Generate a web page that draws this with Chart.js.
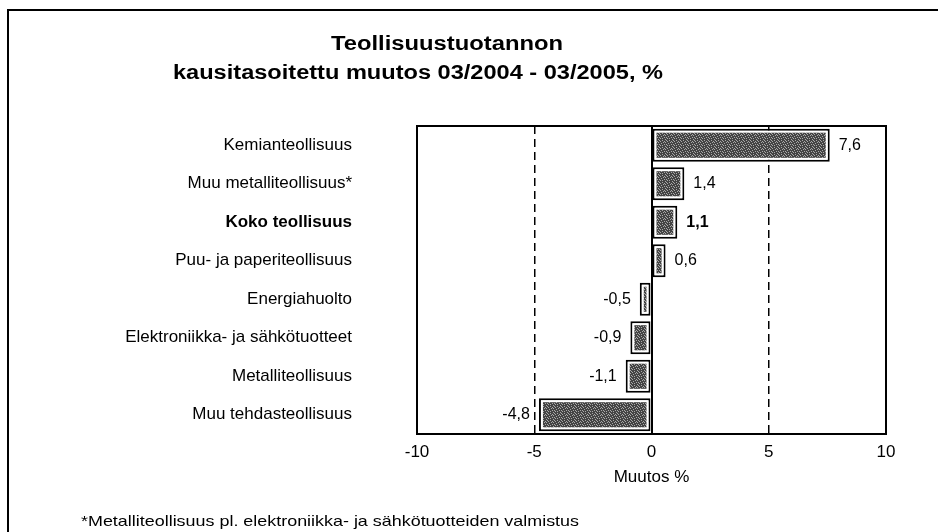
<!DOCTYPE html>
<html><head><meta charset="utf-8">
<script src="https://cdn.jsdelivr.net/npm/chart.js@4.4.1/dist/chart.umd.min.js"></script>
<style>html,body{margin:0;padding:0;background:#fff}#wrap{width:938px;height:532px}</style>
</head><body><div id="wrap"><canvas id="c" width="938" height="532"></canvas></div>
<script>
// ---- data ----
const categories = [
  'Kemianteollisuus',
  'Muu metalliteollisuus*',
  'Koko teollisuus',
  'Puu- ja paperiteollisuus',
  'Energiahuolto',
  'Elektroniikka- ja sähkötuotteet',
  'Metalliteollisuus',
  'Muu tehdasteollisuus'
];
const values = [7.6, 1.4, 1.1, 0.6, -0.5, -0.9, -1.1, -4.8];
const xTicks = [-10, -5, 0, 5, 10];
const titleLines = ['Teollisuustuotannon', 'kausitasoitettu muutos 03/2004 - 03/2005, %'];
const xTitle = 'Muutos %';
const footnote = '*Metalliteollisuus pl. elektroniikka- ja sähkötuotteiden valmistus';
const boldCategory = 'Koko teollisuus';

// ---- styling helpers ----
const FONT = '"Liberation Sans", Arial, Helvetica, sans-serif';
Chart.defaults.font.family = FONT;
Chart.defaults.color = '#000';

function fmt(v) { return v.toFixed(1).replace('.', ','); }

function makePattern(ctx) {
  const map = [
    '0100100',
    '0010001',
    '1000010',
    '0001000',
    '0100001',
    '0010100',
    '1000000'
  ];
  const n = map.length;
  const c = document.createElement('canvas');
  c.width = n; c.height = n;
  const g = c.getContext('2d');
  g.fillStyle = '#444444';
  g.fillRect(0, 0, n, n);
  g.fillStyle = '#a8a8a8';
  for (let r = 0; r < n; r++) for (let k = 0; k < n; k++) if (map[r][k] === '1') g.fillRect(k, r, 1, 1);
  return ctx.createPattern(c, 'repeat');
}

const canvas = document.getElementById('c');
const ctx2d = canvas.getContext('2d');
const texture = makePattern(ctx2d);

const decor = {
  id: 'decor',
  beforeDraw(chart) {
    const c = chart.ctx;
    c.save();
    c.fillStyle = '#fff';
    c.fillRect(0, 0, chart.width, chart.height);
    c.restore();
  },
  afterDatasetsDraw(chart) {
    const c = chart.ctx;
    const meta = chart.getDatasetMeta(0);
    const inset = 4;
    c.save();
    meta.data.forEach((el, i) => {
      const p = el.getProps(['x', 'y', 'base', 'height'], true);
      const l = Math.min(p.x, p.base) + inset;
      const r = Math.max(p.x, p.base) - inset;
      const t = p.y - p.height / 2 + inset;
      const b = p.y + p.height / 2 - inset;
      if (r > l) {
        c.fillStyle = texture;
        c.fillRect(l, t, r - l, b - t);
      }
      const v = values[i];
      c.fillStyle = '#000';
      c.font = (categories[i] === boldCategory ? 'bold ' : '') + '16px ' + FONT;
      c.textBaseline = 'middle';
      if (v >= 0) {
        c.textAlign = 'left';
        c.fillText(fmt(v), Math.max(p.x, p.base) + 9, p.y);
      } else {
        c.textAlign = 'right';
        c.fillText(fmt(v), Math.min(p.x, p.base) - 9, p.y);
      }
    });
    c.restore();
  },
  afterDraw(chart) {
    const c = chart.ctx;
    const a = chart.chartArea;
    c.save();
    // plot frame
    c.strokeStyle = '#000';
    c.lineWidth = 2;
    c.strokeRect(a.left, a.top, a.right - a.left, a.bottom - a.top);
    // outer frame
    c.strokeRect(8, 10, 1200, 800);
    // title
    c.fillStyle = '#000';
    c.textAlign = 'center';
    c.textBaseline = 'alphabetic';
    c.font = 'bold 20px ' + FONT;
    const tl = [
      { text: titleLines[0], cx: 447, base: 50, w: 232 },
      { text: titleLines[1], cx: 418, base: 79, w: 490 }
    ];
    tl.forEach(o => {
      const m = c.measureText(o.text).width;
      c.save();
      c.translate(o.cx, o.base);
      c.scale(o.w / m, 1);
      c.fillText(o.text, 0, 0);
      c.restore();
    });
    // footnote
    c.font = '15px ' + FONT;
    c.textAlign = 'left';
    const fm = c.measureText(footnote).width;
    c.save();
    c.translate(81, 526);
    c.scale(498 / fm, 1);
    c.fillText(footnote, 0, 0);
    c.restore();
    c.restore();
  }
};

new Chart(canvas, {
  type: 'bar',
  data: {
    labels: categories,
    datasets: [{
      data: values,
      backgroundColor: '#fff',
      borderColor: '#000',
      borderWidth: 2,
      borderSkipped: false,
      barPercentage: 0.86,
      categoryPercentage: 1
    }]
  },
  options: {
    indexAxis: 'y',
    responsive: false,
    animation: false,
    devicePixelRatio: 1,
    layout: { padding: { left: 0, right: 52, top: 126, bottom: 44 } },
    plugins: { legend: { display: false }, tooltip: { enabled: false }, title: { display: false } },
    scales: {
      x: {
        min: xTicks[0],
        max: xTicks[xTicks.length - 1],
        afterBuildTicks: s => { s.ticks = xTicks.map(v => ({ value: v })); },
        ticks: { padding: 8, font: { size: 17 }, color: '#000', callback: v => String(v) },
        grid: {
          drawTicks: false,
          color: c => (c.tick && (Math.abs(c.tick.value) === 5 || c.tick.value === 0)) ? '#000' : 'rgba(0,0,0,0)',
          lineWidth: c => (c.tick && c.tick.value === 0) ? 2 : 1.5
        },
        border: { display: false, dash: c => (c.tick && Math.abs(c.tick.value) === 5) ? [8, 5] : [] },
        title: { display: true, text: xTitle, font: { size: 17 }, color: '#000', padding: { top: 0, bottom: 0 } },
        afterFit: s => { s.height = 54; }
      },
      y: {
        ticks: {
          padding: 65,
          color: '#000',
          font: c => ({ size: 17, weight: categories[c.index] === boldCategory ? 'bold' : 'normal' })
        },
        grid: { display: false, drawTicks: false },
        border: { display: false },
        afterFit: s => { s.width = 417; }
      }
    }
  },
  plugins: [decor]
});
</script>
</body></html>
